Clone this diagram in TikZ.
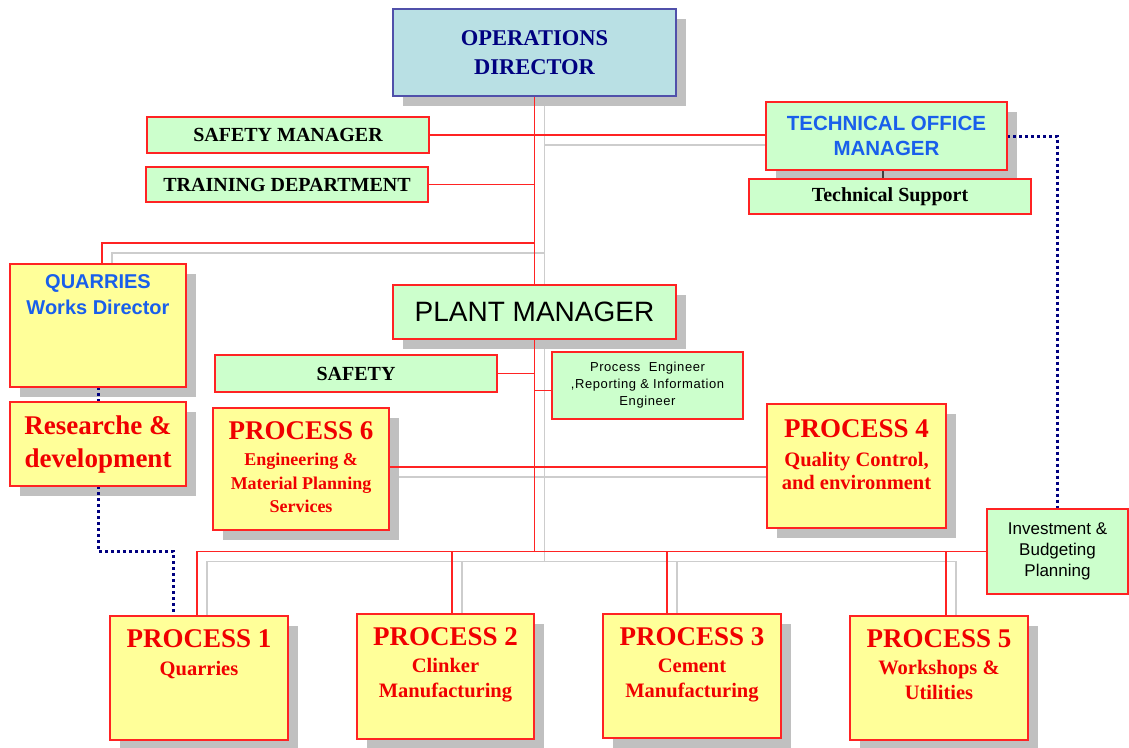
\documentclass[tikz,border=0pt]{standalone}
\usepackage{fontspec}
\setmainfont{Liberation Serif}
\newfontfamily\arl{Liberation Sans}
\usetikzlibrary{calc}
\pgfdeclarelayer{shadowlayer}
\pgfdeclarelayer{linelayer}
\pgfsetlayers{shadowlayer,linelayer,main}
\definecolor{bred}{RGB}{255,35,35}
\definecolor{tred}{RGB}{240,0,0}
\definecolor{yel}{RGB}{255,255,153}
\definecolor{grn}{RGB}{204,255,204}
\definecolor{lblue}{RGB}{185,224,228}
\definecolor{bblue}{RGB}{80,80,170}
\definecolor{navy}{RGB}{0,0,128}
\definecolor{tblue}{RGB}{25,95,235}
\definecolor{shd}{RGB}{192,192,192}
\definecolor{gline}{RGB}{205,205,205}
\newcommand\tbox[4]{\parbox[c][#2pt][t]{#1pt}{\centering\vspace*{#3pt}#4\par}}
\newcommand\bshadow[1]{\fill[shd] ($(#1.north west)+(10,10)$) rectangle ($(#1.south east)+(10,10)$);}
\tikzset{
  bx/.style={draw=bred, line width=1.5pt, inner sep=0pt, outer sep=0pt, align=center},
  ybx/.style={bx, fill=yel},
  gbx/.style={bx, fill=grn},
  serb/.style={font=\bfseries\fontsize{20}{24}\selectfont, text=black},
  rl/.style={draw=bred, line width=1.8pt},
  gl/.style={draw=gline, line width=1.8pt},
  dl/.style={draw=navy, line width=3pt, dash pattern=on 3pt off 3pt},
}
\begin{document}
\begin{tikzpicture}[x=1pt,y=-1pt]
\useasboundingbox (0,0) rectangle (1129,747);
% boxes
\node[bx, draw=bblue, fill=lblue, minimum width=283pt, minimum height=87pt,
      font=\bfseries\fontsize{22.5}{29}\selectfont, text=navy] (od) at (534.5,52.5) {OPERATIONS\\DIRECTOR};
\node[gbx, serb, minimum width=282pt, minimum height=36pt] (sm) at (288,135) {SAFETY MANAGER};
\node[gbx, serb, minimum width=282pt, minimum height=35pt] (td) at (287,184.5) {TRAINING DEPARTMENT};
\node[gbx, minimum width=241pt, minimum height=68pt,
      font=\arl\bfseries\fontsize{20.5}{25}\selectfont, text=tblue] (tom) at (886.5,136) {TECHNICAL OFFICE\\MANAGER};
\node[gbx, serb, minimum width=282pt, minimum height=35pt] (ts) at (890,196.5) {Technical Support};
\node[ybx] (qwd) at (98,325.5) {\tbox{176}{123}{11}{\arl\bfseries\fontsize{20}{26}\selectfont\color{tblue}QUARRIES\\Works Director}};
\node[ybx, minimum width=176pt, minimum height=84pt,
      font=\bfseries\fontsize{27}{33}\selectfont, text=tred] (rd) at (98,444) {Researche \&\\development};
\node[gbx, minimum width=283pt, minimum height=54pt,
      font=\arl\fontsize{28}{30}\selectfont, text=black] (pm) at (534.5,312) {PLANT MANAGER};
\node[gbx, serb, minimum width=282pt, minimum height=37pt] (safety) at (356,373.5) {SAFETY};
\node[gbx, minimum width=191pt, minimum height=67pt,
      font=\arl\fontsize{13}{17}\selectfont\addfontfeature{LetterSpace=4.5}, text=black] (pe) at (647.5,385.5)
      {Process\ \ Engineer\\,Reporting \& Information\\Engineer};
\node[ybx] (p6) at (301,469) {\tbox{176}{122}{14}{\color{tred}\bfseries\fontsize{27}{28}\selectfont PROCESS 6\par\vspace{2.5pt}\fontsize{18}{23.5}\selectfont Engineering \&\\Material Planning\\Services}};
\node[ybx] (p4) at (856.5,466) {\tbox{179}{124}{16}{\color{tred}\bfseries\fontsize{27}{28}\selectfont PROCESS 4\par\vspace{5pt}\fontsize{20.5}{23.5}\selectfont Quality Control,\\and environment}};
\node[gbx, minimum width=141pt, minimum height=85pt,
      font=\arl\fontsize{17}{21}\selectfont, text=black] (inv) at (1057.5,551.5) {Investment \&\\Budgeting\\Planning};
\node[ybx] (p1) at (199,678) {\tbox{178}{124}{14}{\color{tred}\bfseries\fontsize{27}{28}\selectfont PROCESS 1\par\vspace{3pt}\fontsize{20.5}{25}\selectfont Quarries}};
\node[ybx] (p2) at (445.5,676.5) {\tbox{177}{125}{14}{\color{tred}\bfseries\fontsize{27}{28}\selectfont PROCESS 2\par\vspace{2pt}\fontsize{20.5}{25}\selectfont Clinker\\Manufacturing}};
\node[ybx] (p3) at (692,676) {\tbox{178}{124}{14}{\color{tred}\bfseries\fontsize{27}{28}\selectfont PROCESS 3\par\vspace{2pt}\fontsize{20.5}{25}\selectfont Cement\\Manufacturing}};
\node[ybx] (p5) at (939,678) {\tbox{178}{124}{14}{\color{tred}\bfseries\fontsize{27}{28}\selectfont PROCESS 5\par\vspace{2pt}\fontsize{20.5}{25}\selectfont Workshops \&\\Utilities}};
\coordinate (qj) at (534.5,243);
\coordinate (dj) at (173,551);
% gray shadow lines and box shadows
\begin{pgfonlayer}{shadowlayer}
  \draw[gl] ($(od.south)+(10,10)$) -- ($(od.south |- inv.west)+(10,10)$);
  \draw[gl] ($(od.south |- sm.east)+(10,10)$) -- ($(sm.east -| tom.west)+(10,10)$);
  \draw[gl] ($(qwd.north)+(14,0)$) |- ($(qj)+(10,10)$);
  \draw[gl] ($(p6.east)+(10,8)$) -- ($(p6.east -| p4.west)+(10,8)$);
  \draw[gl] ($(p1.north)+(8,0)$) |- ($(p5.north |- inv.west)+(17,10)$) -- ($(p5.north)+(17,0)$);
  \draw[gl] ($(p2.north)+(16.5,0)$) -- ($(p2.north |- inv.west)+(16.5,10)$);
  \draw[gl] ($(p3.north)+(-15,0)$) -- ($(p3.north |- inv.west)+(-15,10)$);
  \bshadow{od}\bshadow{tom}\bshadow{qwd}\bshadow{rd}\bshadow{pm}
  \bshadow{p6}\bshadow{p4}\bshadow{p1}\bshadow{p2}\bshadow{p3}\bshadow{p5}
\end{pgfonlayer}
% connectors
\begin{pgfonlayer}{linelayer}
  \draw[rl] (od.south) -- (od.south |- inv.west);
  \draw[rl] (sm.east) -- (sm.east -| tom.west);
  \draw[rl] (td.east) -- (td.east -| od.south);
  \draw[rl] ([xshift=4pt]qwd.north) |- (qj);
  \draw[rl] (safety.east) -- (safety.east -| od.south);
  \draw[rl] ([yshift=-5pt]pe.west) -- ([yshift=-5pt]pe.west -| od.south);
  \draw[rl] ([yshift=2pt]p6.east) -- ([yshift=2pt]p6.east -| p4.west);
  \draw[rl] ([xshift=-2pt]p1.north) |- (inv.west);
  \draw[rl] ([xshift=6.5pt]p2.north) -- ([xshift=6.5pt]p2.north |- inv.west);
  \draw[rl] ([xshift=-25pt]p3.north) -- ([xshift=-25pt]p3.north |- inv.west);
  \draw[rl] ([xshift=7pt]p5.north) -- ([xshift=7pt]p5.north |- inv.west);
  \draw[black!75, line width=1.2pt] ([xshift=-3.5pt]tom.south) -- ([xshift=-3.5pt]tom.south |- ts.north);
  \draw[dl] (tom.east) -| (inv.north);
  \draw[dl] (qwd.south) -- (rd.north);
  \draw[dl] (rd.south) |- (dj) -- (dj |- p1.north);
\end{pgfonlayer}
\end{tikzpicture}
\end{document}
